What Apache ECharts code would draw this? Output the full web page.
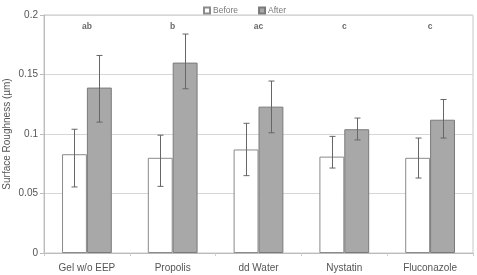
<!DOCTYPE html>
<html>
<head>
<meta charset="utf-8">
<script src="https://cdn.jsdelivr.net/npm/echarts@6/dist/echarts.min.js"></script>
<style>
  html, body { margin: 0; padding: 0; background: #fff; }
  #chart { width: 477px; height: 275px; }
</style>
</head>
<body>
<div id="chart"></div>
<script>
// 数据
const categories = ['Gel w/o EEP', 'Propolis', 'dd Water', 'Nystatin', 'Fluconazole'];
const beforeVals = [0.083, 0.080, 0.087, 0.081, 0.080];
const beforeLow = [0.0555, 0.056, 0.065, 0.0714, 0.063];
const beforeHigh = [0.104, 0.099, 0.109, 0.098, 0.0966];
const afterVals = [0.139, 0.160, 0.123, 0.104, 0.112];
const afterLow = [0.110, 0.138, 0.101, 0.095, 0.0966];
const afterHigh = [0.166, 0.184, 0.1445, 0.1134, 0.129];
const letters = ['ab', 'b', 'ac', 'c', 'c'];
const letterLevel = 0.19;

const chart = echarts.init(document.getElementById('chart'));
const GAP = 0.42; // barCategoryGap

// 误差线 renderItem，side = -1 (Before) / 1 (After)
function errorRenderer(side) {
  return function (params, api) {
    const idx = api.value(0);
    const lo = api.coord([idx, api.value(1)]);
    const hi = api.coord([idx, api.value(2)]);
    const band = api.size([1, 0])[0];
    const barW = band * (1 - GAP) / 2;
    const x = Math.round(lo[0] + side * barW / 2) + 0.5;
    const cap = 3;
    const style = { stroke: '#666', lineWidth: 1 };
    return {
      type: 'group',
      children: [
        { type: 'line', shape: { x1: x, y1: hi[1], x2: x, y2: lo[1] }, style: style },
        { type: 'line', shape: { x1: x - cap, y1: hi[1], x2: x + cap, y2: hi[1] }, style: style },
        { type: 'line', shape: { x1: x - cap, y1: lo[1], x2: x + cap, y2: lo[1] }, style: style }
      ]
    };
  };
}

const beforeErrData = categories.map((c, i) => [i, beforeLow[i], beforeHigh[i]]);
const afterErrData = categories.map((c, i) => [i, afterLow[i], afterHigh[i]]);

const option = {
  animation: false,
  textStyle: { fontFamily: 'Liberation Sans' },
  legend: {
    top: 1,
    left: 198,
    itemWidth: 6,
    itemHeight: 6,
    itemGap: 20,
    icon: 'rect',
    textStyle: { fontSize: 8.5, color: '#777', padding: [0, 0, 0, -2] },
    data: ['Before', 'After']
  },
  grid: {
    left: 44,
    right: 4,
    top: 15,
    bottom: 22,
    outerBoundsMode: 'none',
    containLabel: false,
    show: true,
    borderColor: '#c8c8c8',
    borderWidth: 1
  },
  xAxis: {
    type: 'category',
    data: categories,
    axisLine: { lineStyle: { color: '#bbb' } },
    axisTick: { show: true, length: 3, lineStyle: { color: '#ccc' } },
    axisLabel: { fontSize: 10, color: '#555', margin: 10 }
  },
  yAxis: {
    type: 'value',
    min: 0,
    max: 0.2,
    interval: 0.05,
    name: 'Surface Roughness (µm)',
    nameLocation: 'middle',
    nameGap: 32,
    nameMoveOverlap: false,
    nameTextStyle: { fontSize: 10, color: '#555' },
    axisLine: { show: true, lineStyle: { color: '#bbb' } },
    axisTick: { show: true, length: 4, lineStyle: { color: '#bbb' } },
    axisLabel: { fontSize: 10, color: '#555', margin: 6 },
    splitLine: { lineStyle: { color: '#d6d6d6' } }
  },
  series: [
    {
      name: 'Before',
      type: 'bar',
      data: beforeVals,
      barGap: '0%',
      barCategoryGap: (GAP * 100) + '%',
      itemStyle: { color: '#fff', borderColor: '#8a8a8a', borderWidth: 1 }
    },
    {
      name: 'After',
      type: 'bar',
      data: afterVals,
      barGap: '0%',
      barCategoryGap: (GAP * 100) + '%',
      itemStyle: { color: '#a8a8a8', borderColor: '#7a7a7a', borderWidth: 1 }
    },
    {
      type: 'custom',
      renderItem: errorRenderer(-1),
      data: beforeErrData,
      encode: { x: 0, y: [1, 2] },
      z: 10
    },
    {
      type: 'custom',
      renderItem: errorRenderer(1),
      data: afterErrData,
      encode: { x: 0, y: [1, 2] },
      z: 10
    },
    // 显著性字母
    {
      type: 'scatter',
      symbolSize: 0,
      data: letters.map((l, i) => ({ value: [i, letterLevel], name: l })),
      label: {
        show: true,
        position: 'inside',
        formatter: p => p.name,
        fontSize: 8.5,
        fontWeight: 'bold',
        color: '#444'
      },
      silent: true
    }
  ]
};

chart.setOption(option);
</script>
</body>
</html>
